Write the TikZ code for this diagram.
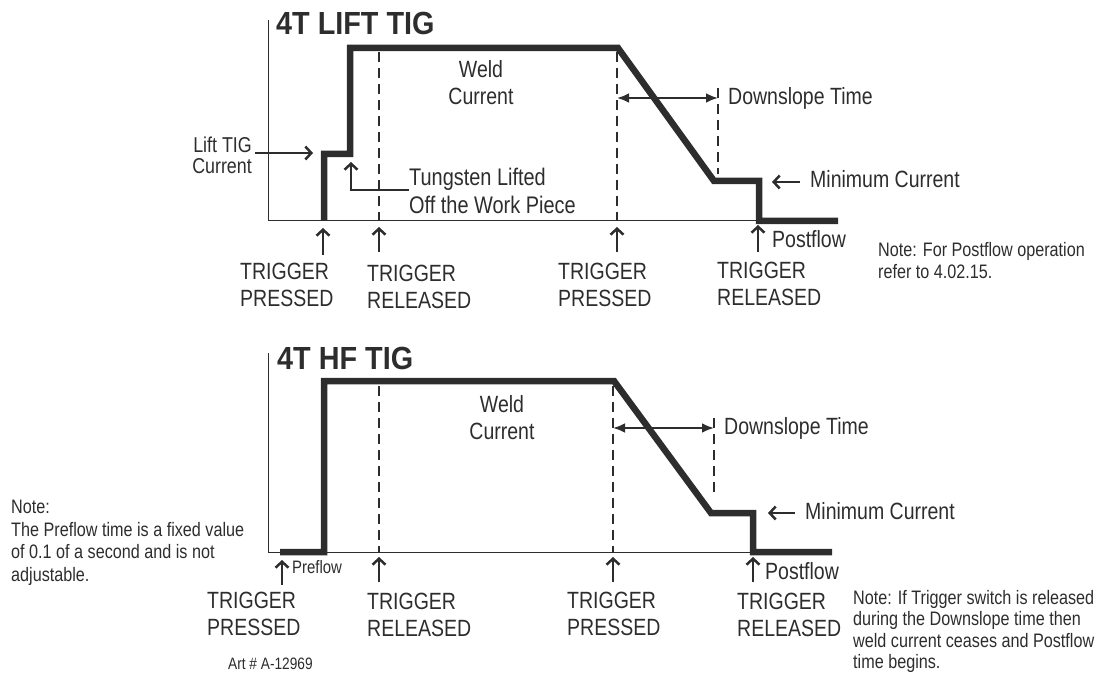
\documentclass[tikz,border=0pt]{standalone}
\usepackage{fontspec}
\setmainfont{Liberation Sans}[FakeStretch=0.83]
\newfontfamily\headfont{Liberation Sans}[FakeStretch=0.9]
\usetikzlibrary{arrows.meta,positioning,calc}
\definecolor{ink}{RGB}{45,45,45}

\begin{document}
\begin{tikzpicture}[x=1pt,y=-1pt,
  every node/.style={text=ink, inner sep=0pt},
  weld/.style={draw=ink, line width=6.5pt, line join=miter},
  axisline/.style={draw=ink, line width=1pt},
  guide/.style={draw=ink, line width=2.6pt, dash pattern=on 10pt off 6pt},
  pointer/.style={draw=ink, line width=2.5pt, -{Straight Barb[length=6pt,width=13pt]}},
  span/.style={draw=ink, line width=2.5pt, {Latex[length=12pt,width=10pt]}-{Latex[length=12pt,width=10pt]}},
  heading/.style={font=\headfont\bfseries\fontsize{32}{32}\selectfont, anchor=base west},
  lbl/.style={font=\fontsize{23.5}{27}\selectfont, align=left, anchor=north west},
  trig/.style={font=\fontsize{23.5}{27}\selectfont, align=left, anchor=north west},
  tiny/.style={font=\fontsize{18}{18}\selectfont, anchor=north west},
  note/.style={font=\fontsize{19.5}{22.5}\selectfont, align=left, anchor=north west}
]
  \useasboundingbox (0,0) rectangle (1111,676);

  % ---------------- 4T LIFT TIG ----------------
  \node[heading] (ltitle) at (276,35) {4T LIFT TIG};
  \draw[axisline] (268,20) -- (268,221) -- (760,221);
  \draw[guide] (379,52) -- (379,221);
  \draw[guide] (617,52) -- (617,221);
  \draw[guide] (718,88) -- (718,174);
  \draw[weld] (324,221) -- (324,154) -- (350,154) -- (350,48) -- (618,48)
    -- (714,181) -- (759,181) -- (759,221) -- (838,221);

  \node[lbl, align=center, anchor=north] (lweld) at (481,60) {Weld\\Current};
  \node[font=\fontsize{21.5}{21}\selectfont, align=right, anchor=north east] (llift) at (252,137) {Lift TIG\\Current};
  \node[lbl, font=\fontsize{24}{28}\selectfont] (ltung) at (409,168) {Tungsten Lifted\\Off the Work Piece};
  \node[lbl] (ldown) at (728,87) {Downslope Time};
  \node[lbl] (lmin) at (810,170) {Minimum Current};
  \node[lbl] (lpost) at (772,230) {Postflow};
  \node[note] (lnote) at (878,242) {Note: For Postflow operation\\refer to 4.02.15.};

  \coordinate (lliftend) at (313,153);
  \coordinate (ltungend) at (351,162);
  \draw[pointer] (llift.east |- lliftend) ++(3,0) -- (lliftend);
  \draw[pointer] (ltung.west |- 0,190) -| (ltungend);
  \coordinate (lspanA) at (617,98);
  \coordinate (lspanB) at (718,98);
  \draw[span] (lspanA) -- (lspanB);
  \coordinate (lminend) at (772,182);
  \draw[pointer] (lmin.west |- lminend) ++(-10,0) -- (lminend);

  \node[trig] (ltrig1) at (240,263) {TRIGGER\\PRESSED};
  \node[trig] (ltrig2) at (367,265) {TRIGGER\\RELEASED};
  \node[trig] (ltrig3) at (558,263) {TRIGGER\\PRESSED};
  \node[trig] (ltrig4) at (717,262) {TRIGGER\\RELEASED};
  \draw[pointer] (323,255) coordinate (la1) -- (323,228) coordinate (lb1);
  \draw[pointer] (379,252) coordinate (la2) -- (379,227) coordinate (lb2);
  \draw[pointer] (617,252) coordinate (la3) -- (617,227) coordinate (lb3);
  \draw[pointer] (758,252) coordinate (la4) -- (758,225) coordinate (lb4);

  % ---------------- 4T HF TIG ----------------
  \node[heading] (htitle) at (277,369) {4T HF TIG};
  \draw[axisline] (268,353) -- (268,552) -- (753,552);
  \draw[guide] (379,386) -- (379,552);
  \draw[guide] (613,386) -- (613,552);
  \draw[guide] (714,418) -- (714,496);
  \draw[weld] (280,552) -- (324,552) -- (324,381) -- (614,381)
    -- (711,513) -- (753,513) -- (753,552) -- (832,552);

  \node[lbl, align=center, anchor=north] (hweld) at (502,395) {Weld\\Current};
  \node[lbl] (hdown) at (724,417) {Downslope Time};
  \node[lbl] (hmin) at (805,502) {Minimum Current};
  \node[tiny] (hpre) at (292,560) {Preflow};
  \node[lbl] (hpost) at (765,562) {Postflow};
  \node[note] (hnoteL) at (11,500) {Note:\\The Preflow time is a fixed value\\of 0.1 of a second and is not\\adjustable.};
  \node[note, font=\fontsize{19.5}{21.5}\selectfont] (hnoteR) at (853,590) {Note: If Trigger switch is released\\during the Downslope time then\\weld current ceases and Postflow\\time begins.};
  \node[font=\fontsize{16.5}{16}\selectfont, anchor=north west] (art) at (228,658) {Art \# A-12969};

  \coordinate (hspanA) at (613,428);
  \coordinate (hspanB) at (714,428);
  \draw[span] (hspanA) -- (hspanB);
  \coordinate (hminend) at (768,513);
  \draw[pointer] (hmin.west |- hminend) ++(-10,0) -- (hminend);

  \node[trig] (htrig1) at (207,592) {TRIGGER\\PRESSED};
  \node[trig] (htrig2) at (367,593) {TRIGGER\\RELEASED};
  \node[trig] (htrig3) at (567,592) {TRIGGER\\PRESSED};
  \node[trig] (htrig4) at (737,593) {TRIGGER\\RELEASED};
  \draw[pointer] (282,585) coordinate (ha1) -- (282,560) coordinate (hb1);
  \draw[pointer] (379,582) coordinate (ha2) -- (379,557) coordinate (hb2);
  \draw[pointer] (613,582) coordinate (ha3) -- (613,557) coordinate (hb3);
  \draw[pointer] (753,582) coordinate (ha4) -- (753,557) coordinate (hb4);
\end{tikzpicture}
\end{document}
